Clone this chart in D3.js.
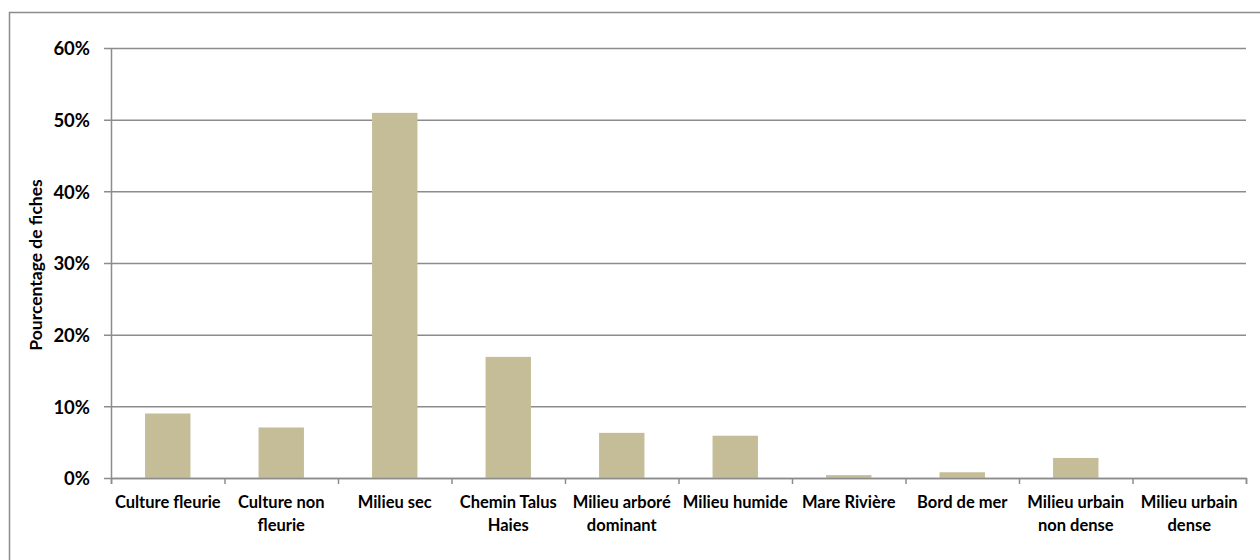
<!DOCTYPE html>
<html><head><meta charset="utf-8">
<script src="https://cdn.jsdelivr.net/npm/d3@7"></script>
<style>body{margin:0;background:#fff}svg{display:block}text{font-family:Lato,"Open Sans",sans-serif;font-weight:bold;fill:#000}</style>
</head><body>
<svg id="c" width="1260" height="560"></svg>
<script>
const categories = [["Culture fleurie"],["Culture non","fleurie"],["Milieu sec"],["Chemin Talus","Haies"],["Milieu arboré","dominant"],["Milieu humide"],["Mare Rivière"],["Bord de mer"],["Milieu urbain","non dense"],["Milieu urbain","dense"]];
const values = [9.0, 7.05, 50.95, 16.9, 6.3, 5.9, 0.4, 0.8, 2.8, 0];
const yTicks = [0,10,20,30,40,50,60];
const yTitle = "Pourcentage de fiches";

const svg = d3.select("#c");
const L=111, R=1246, T=48, B=478;
svg.append("rect").attr("x",9.5).attr("y",12.5).attr("width",1300).attr("height",600)
  .attr("fill","none").attr("stroke","#8c8c8c").attr("stroke-width",1.5);

const x = d3.scaleBand().domain(d3.range(categories.length)).range([L,R]).paddingInner(0.6).paddingOuter(0.3);
const xb = d3.scaleLinear().domain([0,categories.length]).range([L,R]);
const y = d3.scaleLinear().domain([0,60]).range([B,T]);

// gridlines + y axis
const gy = svg.append("g").attr("transform",`translate(${L},0)`)
  .call(d3.axisLeft(y).tickValues(yTicks).tickSize(-(R-L)).tickSizeOuter(0).tickFormat(d=>d+"%").tickPadding(14));
gy.attr("font-family",null).attr("font-size",null);
gy.select(".domain").attr("stroke","#8c8c8c").attr("stroke-width",1.5);
gy.selectAll(".tick line").attr("stroke","#8c8c8c").attr("stroke-width",1.5).attr("x1",-7);
gy.selectAll(".tick text").style("font-size","18.5px").attr("x",-21).attr("dy","0.36em");

// bars
svg.append("g").selectAll("rect").data(values).join("rect")
  .attr("x",(d,i)=>x(i)).attr("width",x.bandwidth())
  .attr("y",d=>y(d)).attr("height",d=>B-y(d))
  .attr("fill","#c4bd97");

// x axis
const gx = svg.append("g").attr("transform",`translate(0,${B})`)
  .call(d3.axisBottom(xb).tickValues(d3.range(categories.length+1)).tickSize(6).tickFormat(""));
gx.select(".domain").attr("stroke","#8c8c8c").attr("stroke-width",1.5);
gx.selectAll(".tick line").attr("stroke","#8c8c8c").attr("stroke-width",1.5);

const lab = svg.append("g").selectAll("text").data(categories).join("text")
  .attr("text-anchor","middle").style("font-size","16.5px")
  .attr("transform",(d,i)=>`translate(${x(i)+x.bandwidth()/2},508)`);
lab.each(function(d){
  d3.select(this).selectAll("tspan").data(d).join("tspan").attr("x",0).attr("y",(t,j)=>j*23).text(t=>t);
});

svg.append("text").attr("transform","translate(42,265) rotate(-90)").attr("text-anchor","middle")
  .style("font-size","17.5px").text(yTitle);
</script>
</body></html>
